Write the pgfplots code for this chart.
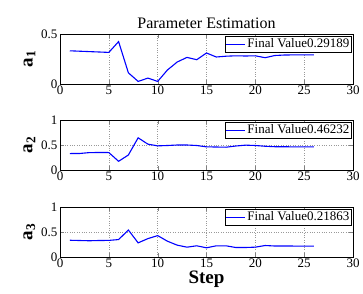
\documentclass[border=0pt]{standalone}
\usepackage{pgfplots}
\pgfplotsset{compat=1.18}
\usepackage{fontspec}
\setmainfont{Liberation Serif}
\begin{document}
\begin{tikzpicture}[x=1pt,y=1pt]
\useasboundingbox (0,0) rectangle (363,293);
\pgfplotsset{
  every axis/.style={
    scale only axis, width=293pt, height=50pt,
    xmin=0, xmax=30, ymin=0,
    xtick={0,5,...,30},
    tick align=inside,
    grid=major,
    major grid style={dotted, gray!80, line width=0.6pt},
    axis line style={line width=0.7pt},
    ticklabel style={font=\fontsize{13}{13}\selectfont},
    /pgf/number format/assume math mode=true,
    xticklabel style={yshift=2pt},
    yticklabel style={xshift=1pt},
    ylabel style={font=\fontsize{19}{19}\selectfont\bfseries, yshift=-1pt},
    legend style={at={(0.997,0.96)}, anchor=north east, font=\fontsize{13}{13}\selectfont, draw=black, line width=0.7pt, inner sep=0.5pt, row sep=-2pt},
    legend cell align=left,
    legend image code/.code={\draw[blue, line width=1.1pt] (0cm,0cm) -- (0.65cm,0cm);},
  }
}
\begin{axis}[at={(60pt,209pt)}, anchor=south west, ymax=0.5, ytick={0,0.5},
  yticklabels={0,0.5},
  ylabel={a$_{\mathbf{1}}$},
  title={Parameter Estimation}, title style={font=\fontsize{16}{16}\selectfont, yshift=-4pt}]
\addplot[blue, line width=1.1pt] coordinates {(1,0.332) (2,0.328) (3,0.324) (4,0.320) (5,0.316) (6,0.424) (7,0.112) (8,0.026) (9,0.059) (10,0.026) (11,0.14) (12,0.22) (13,0.266) (14,0.243) (15,0.31) (16,0.27) (17,0.278) (18,0.282) (19,0.28) (20,0.282) (21,0.263) (22,0.285) (23,0.29) (24,0.291) (25,0.292) (26,0.29189)};
\addlegendentry{Final Value0.29189}
\end{axis}
\begin{axis}[at={(60pt,123pt)}, anchor=south west, ymax=1, ytick={0,0.5,1},
  yticklabels={0,0.5,1},
  ylabel={a$_{\mathbf{2}}$}]
\addplot[blue, line width=1.1pt] coordinates {(1,0.329) (2,0.33) (3,0.348) (4,0.35) (5,0.349) (6,0.174) (7,0.30) (8,0.644) (9,0.517) (10,0.483) (11,0.49) (12,0.50) (13,0.50) (14,0.49) (15,0.463) (16,0.46) (17,0.456) (18,0.48) (19,0.497) (20,0.49) (21,0.475) (22,0.466) (23,0.465) (24,0.463) (25,0.462) (26,0.46232)};
\addlegendentry{Final Value0.46232}
\end{axis}
\begin{axis}[at={(60pt,36pt)}, anchor=south west, ymax=1, ytick={0,0.5,1},
  yticklabels={0,0.5,1},
  ylabel={a$_{\mathbf{3}}$},
  xlabel={Step}, xlabel style={font=\fontsize{19}{19}\selectfont\bfseries, yshift=3pt}]
\addplot[blue, line width=1.1pt] coordinates {(1,0.335) (2,0.33) (3,0.325) (4,0.33) (5,0.332) (6,0.349) (7,0.54) (8,0.283) (9,0.368) (10,0.428) (11,0.316) (12,0.237) (13,0.197) (14,0.224) (15,0.184) (16,0.224) (17,0.224) (18,0.19) (19,0.19) (20,0.197) (21,0.23) (22,0.22) (23,0.22) (24,0.219) (25,0.219) (26,0.21863)};
\addlegendentry{Final Value0.21863}
\end{axis}
\end{tikzpicture}
\end{document}
